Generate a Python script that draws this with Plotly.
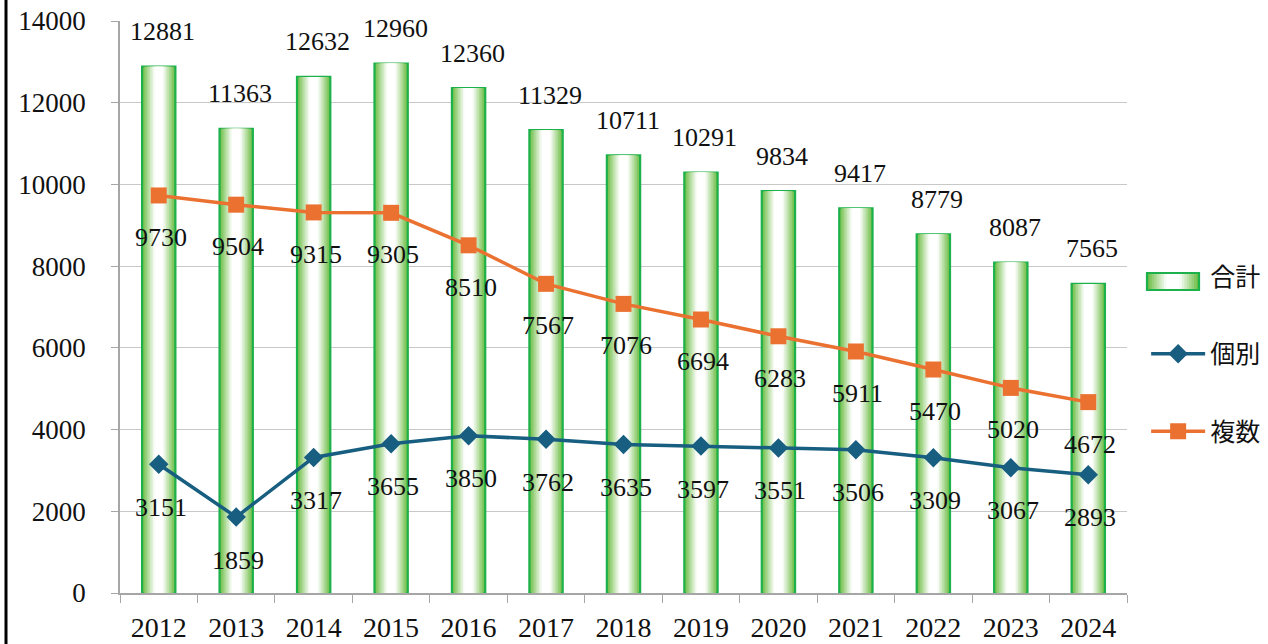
import plotly.graph_objects as go

years = ["2012", "2013", "2014", "2015", "2016", "2017", "2018", "2019", "2020", "2021", "2022", "2023", "2024"]
total = [12881, 11363, 12632, 12960, 12360, 11329, 10711, 10291, 9834, 9417, 8779, 8087, 7565]
kobetsu = [3151, 1859, 3317, 3655, 3850, 3762, 3635, 3597, 3551, 3506, 3309, 3067, 2893]
fukusu = [9730, 9504, 9315, 9305, 8510, 7567, 7076, 6694, 6283, 5911, 5470, 5020, 4672]
y_ticks = [0, 2000, 4000, 6000, 8000, 10000, 12000, 14000]

NUM_FONT = "Liberation Serif"
CJK_FONT = "Noto Sans CJK JP"
BORDER_GREEN = "#1DB14B"

W, H = 1268, 644
# plot area in page pixels
PL, PR, PT, PB = 120, 1127, 21, 593

def px_x(p):
    return (p - PL) / (PR - PL)

def px_y(p):
    return (PB - p) / (PB - PT)

fig = go.Figure()

# Gradient bars built from overlaid bar layers (green edges -> white centre)
BAR_W = 0.43
n_layers = 10
edge = (112, 190, 72)
layer_colors = []
layer_fracs = []
for k in range(n_layers):
    t = min(1.0, (k / (n_layers - 1)) * 1.2)
    c = tuple(int(round(edge[i] + (255 - edge[i]) * t)) for i in range(3))
    layer_colors.append("rgb(%d,%d,%d)" % c)
    layer_fracs.append(1 - 0.85 * k / (n_layers - 1))

# legend-only entry for the bars (swatch drawn as shapes below)
fig.add_trace(go.Bar(x=[None], y=[None], name="合計", legendgroup="g1",
                     marker=dict(color="rgba(0,0,0,0)", line=dict(width=0))))
for k in range(n_layers):
    fig.add_trace(go.Bar(
        x=years, y=total, width=BAR_W * layer_fracs[k],
        marker=dict(color=layer_colors[k],
                    line=dict(color=BORDER_GREEN if k == 0 else "rgba(0,0,0,0)", width=2.2 if k == 0 else 0)),
        name="合計", legendgroup="g1", showlegend=False, hoverinfo="skip",
    ))

fig.add_trace(go.Scatter(
    x=years, y=kobetsu, name="個別", legendgroup="g2", mode="lines+markers",
    line=dict(color="#175E80", width=3.5),
    marker=dict(symbol="diamond", size=15, color="#175E80"),
))
fig.add_trace(go.Scatter(
    x=years, y=fukusu, name="複数", legendgroup="g3", mode="lines+markers",
    line=dict(color="#EA7130", width=3.5),
    marker=dict(symbol="square", size=16, color="#EA7130"),
))

annotations = []
for i, v in enumerate(total):
    annotations.append(dict(x=i, y=v, text=str(v), showarrow=False, yanchor="middle",
                            yshift=35, xshift=4, font=dict(family=NUM_FONT, size=26, color="#111")))
for i, v in enumerate(kobetsu):
    annotations.append(dict(x=i, y=v, text=str(v), showarrow=False, yanchor="middle",
                            yshift=-43, xshift=2, font=dict(family=NUM_FONT, size=26, color="#111")))
for i, v in enumerate(fukusu):
    annotations.append(dict(x=i, y=v, text=str(v), showarrow=False, yanchor="middle",
                            yshift=-42, xshift=2, font=dict(family=NUM_FONT, size=26, color="#111")))

# legend swatch for 合計: gradient rectangle with green border
shapes = []
sx0, sx1, sy0, sy1 = 1147, 1199, 273, 290
sw = sx1 - sx0
cx = (sx0 + sx1) / 2
for k in range(n_layers):
    half = sw / 2 * layer_fracs[k]
    shapes.append(dict(type="rect", xref="paper", yref="paper",
                       x0=px_x(cx - half), x1=px_x(cx + half), y0=px_y(sy1), y1=px_y(sy0),
                       fillcolor=layer_colors[k], line=dict(width=0), layer="above"))
shapes.append(dict(type="rect", xref="paper", yref="paper",
                   x0=px_x(sx0), x1=px_x(sx1), y0=px_y(sy1), y1=px_y(sy0),
                   fillcolor="rgba(0,0,0,0)", line=dict(color=BORDER_GREEN, width=2.2), layer="above"))
# left frame line of the original picture
shapes.append(dict(type="line", xref="paper", yref="paper", x0=px_x(6), x1=px_x(6), y0=-0.2, y1=1.2,
                   line=dict(color="black", width=3)))

fig.update_layout(
    width=W, height=H,
    barmode="overlay",
    plot_bgcolor="white", paper_bgcolor="white",
    margin=dict(l=PL, r=W - PR, t=PT, b=H - PB, autoexpand=False),
    font=dict(family=NUM_FONT, size=26, color="#111"),
    annotations=annotations,
    shapes=shapes,
    legend=dict(x=1.019, y=0.418, xanchor="left", yanchor="middle",
                font=dict(family=CJK_FONT, size=25, color="#111"),
                tracegroupgap=42, itemwidth=54, bgcolor="rgba(0,0,0,0)"),
    showlegend=True,
)
fig.update_xaxes(
    type="category", range=[-0.5, len(years) - 0.5], automargin=False, tickangle=0,
    showline=True, linecolor="#A6A6A6", linewidth=1.5,
    ticks="outside", tickson="boundaries", ticklen=8, tickcolor="#A6A6A6",
    showgrid=False, tickfont=dict(family=NUM_FONT, size=28), ticklabelstandoff=9,
)
fig.update_yaxes(
    range=[0, 14000], tickvals=y_ticks, ticktext=[str(t) for t in y_ticks],
    automargin=False,
    showline=True, linecolor="#A6A6A6", linewidth=1.5,
    ticks="outside", ticklen=7, tickcolor="#A6A6A6",
    gridcolor="#C8C8C8", gridwidth=1.2, zeroline=False,
    tickfont=dict(family=NUM_FONT, size=27), ticklabelstandoff=20,
)

fig.write_html("out.html", config={"displayModeBar": False},
               post_script="document.body.style.margin='0';")
